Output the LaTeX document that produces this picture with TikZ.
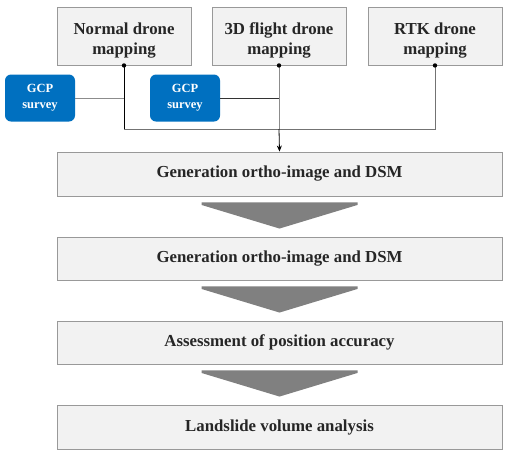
\documentclass[tikz,border=0pt]{standalone}
\usepackage{fontspec}
\setmainfont{Liberation Serif}
\usetikzlibrary{arrows.meta}
\definecolor{gcpblue}{HTML}{0070C0}
\tikzset{
  stage/.style={draw=black!40, fill=black!5, line width=0.9pt, text=black!85,
    font=\bfseries\fontsize{16.8}{20}\selectfont, align=center, inner sep=0pt},
  source/.style={stage, minimum width=134pt, minimum height=58pt, text height=36pt, text depth=0pt},
  survey/.style={fill=gcpblue, rounded corners=6pt, text=white, align=center,
    font=\bfseries\fontsize{12.5}{16}\selectfont, minimum width=70pt, minimum height=47pt},
  chev/.style={fill=black!50},
  wire/.style={line width=0.8pt}
}
\begin{document}
\begin{tikzpicture}[x=1pt, y=-1pt]
      \useasboundingbox (0,0) rectangle (511,456);
      \draw
        (124,36) node[source] (normal){Normal drone\\mapping}
        (279,36) node[source] (flight){3D flight drone\\mapping}
        (435,36) node[source] (rtk){RTK drone\\mapping}
        (40,98) node[survey] (gcpa){GCP\\survey}
        (185,98) node[survey] (gcpb){GCP\\survey}
        (279.5,174) node[stage, minimum width=445pt, minimum height=44pt] (gen1){Generation ortho-image and DSM}
        (279.5,258.5) node[stage, minimum width=445pt, minimum height=43pt] (gen2){Generation ortho-image and DSM}
        (279.5,342.5) node[stage, minimum width=445pt, minimum height=43pt] (assess){Assessment of position accuracy}
        (279.5,427) node[stage, minimum width=445pt, minimum height=44pt] (volume){Landslide volume analysis};
      \coordinate (bus) at (0,129);
      \begin{scope}[wire]
        \draw[black!45] (gcpa.east) -- (gcpa.east -| normal.south);
        \draw[black!80] (gcpb.east) -- (gcpb.east -| flight.south);
        \draw[black!55] (normal.south |- bus) -| (rtk.south);
        \draw[black] (normal.south) -- (normal.south |- bus);
        \draw[black!45] (flight.south) -- (flight.south |- bus);
        \draw[black, -{Stealth[length=6pt,width=5pt]}] (flight.south |- bus) -- (gen1.north);
      \end{scope}
      \foreach \n in {normal,flight,rtk}
        \fill (\n.south) circle (2.2pt);
      \foreach \a/\b in {gen1/gen2,gen2/assess,assess/volume}
        \fill[chev] ([xshift=-78pt,yshift=-6pt]\a.south) -- ([xshift=78pt,yshift=-6pt]\a.south)
          -- ([xshift=78pt,yshift=-8.5pt]\a.south) -- ([yshift=8pt]\b.north)
          -- ([xshift=-78pt,yshift=-8.5pt]\a.south) -- cycle;
    \end{tikzpicture}
\end{document}
